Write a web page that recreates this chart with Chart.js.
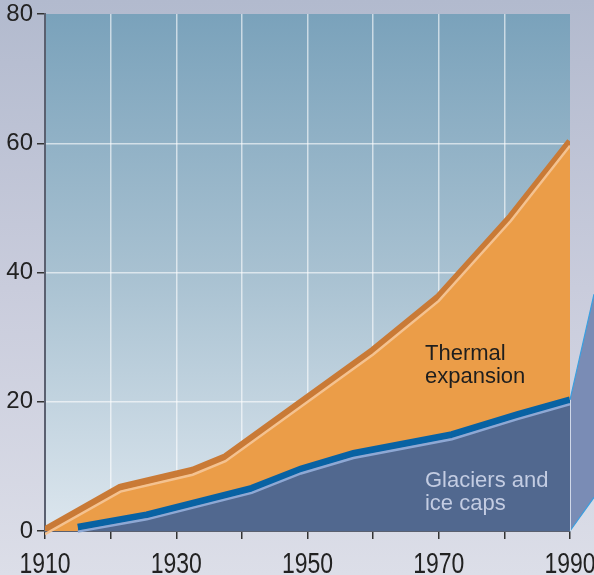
<!DOCTYPE html>
<html>
<head>
<meta charset="utf-8">
<script src="https://cdn.jsdelivr.net/npm/chart.js@4"></script>
<style>
  html, body { margin: 0; padding: 0; }
  body {
    width: 594px; height: 575px; overflow: hidden;
    background: linear-gradient(to bottom, #b2bace 0%, #c9ccdc 50%, #dcdee8 100%);
  }
  #wrap { position: relative; width: 594px; height: 575px; }
</style>
</head>
<body>
<div id="wrap"><canvas id="sea-level-chart"></canvas></div>
<script>
// Sea level rise contributions, 1910-1990

const totalYears = [1910, 1921.5, 1932.5, 1937.5, 1960, 1970, 1981, 1990];
const totalValues = [0.2, 6.8, 9.4, 11.5, 28, 36.3, 48.7, 60.3];

const glacierYears = [1915, 1925.5, 1941.5, 1949, 1957, 1972, 1982, 1990];
const glacierValues = [0.6, 2.5, 6.6, 9.6, 12, 14.9, 18, 20.3];

const yearTicks = [1910, 1930, 1950, 1970, 1990];
const valueTicks = [0, 20, 40, 60, 80];

const labelFont = '"Liberation Sans", Arial, sans-serif';

function toPoints(xs, ys) {
    return xs.map(function(x, i) { return { x: x, y: ys[i] }; });
}

// plot area gradient
const plotBackground = {
    id: 'plotBackground',
    beforeDraw: function(chart) {
        const a = chart.chartArea;
        const ctx = chart.ctx;
        const g = ctx.createLinearGradient(0, a.top, 0, a.bottom);
        g.addColorStop(0, '#7aa2bb');
        g.addColorStop(0.5, '#a8c1d1');
        g.addColorStop(1, '#dce6ee');
        ctx.save();
        ctx.fillStyle = g;
        ctx.fillRect(a.left, a.top, a.right - a.left, a.bottom - a.top);
        ctx.restore();
    }
};

// highlight lines are drawn a few pixels under their series line
const shiftLines = {
    id: 'shiftLines',
    beforeDatasetDraw: function(chart, args) {
        const shift = chart.data.datasets[args.index].shift;
        if (shift) {
            chart.ctx.save();
            chart.ctx.translate(0, shift);
        }
    },
    afterDatasetDraw: function(chart, args) {
        if (chart.data.datasets[args.index].shift) chart.ctx.restore();
    }
};

// side panel, area labels and the tall year labels
const decorations = {
    id: 'decorations',
    afterDatasetsDraw: function(chart) {
        const ctx = chart.ctx;
        const xs = chart.scales.x;
        const ys = chart.scales.y;
        const x0 = xs.getPixelForValue(totalYears[totalYears.length - 1]);
        const yb = ys.getPixelForValue(0);
        const yt = ys.getPixelForValue(glacierValues[glacierValues.length - 1]);
        const w = chart.width - x0;

        ctx.save();
        ctx.beginPath();
        ctx.moveTo(x0, yt);
        ctx.lineTo(x0 + w, yt - w * 4.4);
        ctx.lineTo(x0 + w, yb - w * 1.4);
        ctx.lineTo(x0, yb);
        ctx.closePath();
        ctx.fillStyle = '#7a8cb5';
        ctx.fill();
        ctx.strokeStyle = '#3a9fe0';
        ctx.lineWidth = 1.2;
        ctx.beginPath();
        ctx.moveTo(x0, yt);
        ctx.lineTo(x0 + w, yt - w * 4.4);
        ctx.moveTo(x0, yb);
        ctx.lineTo(x0 + w, yb - w * 1.4);
        ctx.stroke();
        ctx.strokeStyle = 'rgba(230,235,245,0.8)';
        ctx.lineWidth = 1;
        ctx.beginPath();
        ctx.moveTo(x0 + 0.5, yt);
        ctx.lineTo(x0 + 0.5, yb);
        ctx.stroke();

        ctx.font = '22px ' + labelFont;
        ctx.textAlign = 'left';
        ctx.textBaseline = 'alphabetic';
        const tx = xs.getPixelForValue(1967.9);
        ctx.fillStyle = '#1e1e1e';
        ctx.fillText('Thermal', tx, ys.getPixelForValue(26.5));
        ctx.fillText('expansion', tx, ys.getPixelForValue(22.9));
        ctx.fillStyle = '#c3cce2';
        ctx.fillText('Glaciers and', tx, ys.getPixelForValue(6.8));
        ctx.fillText('ice caps', tx, ys.getPixelForValue(3.2));
        ctx.restore();
    },
    afterDraw: function(chart) {
        // year labels are vertically stretched in the original
        const ctx = chart.ctx;
        const xs = chart.scales.x;
        const stretch = 1.3;
        const baseline = xs.bottom - 2;
        ctx.save();
        ctx.font = '23px ' + labelFont;
        ctx.fillStyle = '#222';
        ctx.textAlign = 'center';
        ctx.textBaseline = 'alphabetic';
        ctx.scale(1, stretch);
        yearTicks.forEach(function(year) {
            ctx.fillText(String(year), xs.getPixelForValue(year), baseline / stretch);
        });
        ctx.restore();
    }
};

function hideEdges(ctx) {
    const v = ctx.tick ? ctx.tick.value : null;
    return (v === 1990 || v === 80) ? 'rgba(0,0,0,0)' : 'rgba(255,255,255,0.6)';
}

function initSeaLevelChart() {
    const canvas = document.getElementById('sea-level-chart');

    new Chart(canvas, {
        type: 'line',
        data: {
            datasets: [
                {
                    label: 'Thermal expansion',
                    data: toPoints(totalYears, totalValues),
                    borderColor: '#c97a36',
                    backgroundColor: '#eb9d48',
                    borderWidth: 7,
                    borderJoinStyle: 'round',
                    fill: 'origin',
                    pointRadius: 0,
                    tension: 0,
                    order: 6
                },
                {
                    label: 'Thermal highlight',
                    data: toPoints(totalYears, totalValues),
                    borderColor: '#f4c290',
                    borderWidth: 2.5,
                    fill: false,
                    pointRadius: 0,
                    tension: 0,
                    shift: 4.5,
                    order: 5
                },
                {
                    label: 'Glaciers and ice caps',
                    data: toPoints(glacierYears, glacierValues),
                    borderColor: '#0862a3',
                    backgroundColor: '#51688f',
                    borderWidth: 7,
                    fill: 'origin',
                    pointRadius: 0,
                    tension: 0,
                    order: 4
                },
                {
                    label: 'Glacier highlight',
                    data: toPoints(glacierYears, glacierValues),
                    borderColor: '#8ea8d4',
                    borderWidth: 2.5,
                    fill: false,
                    pointRadius: 0,
                    tension: 0,
                    shift: 4.5,
                    order: 3
                }
            ]
        },
        options: {
            responsive: true,
            maintainAspectRatio: false,
            animation: false,
            layout: {
                padding: { top: 14, right: 24, left: 0, bottom: 0 }
            },
            scales: {
                x: {
                    type: 'linear',
                    min: 1910,
                    max: 1990,
                    afterFit: function(scale) {
                        scale.height = 44;
                        scale.paddingLeft = 0;
                        scale.paddingRight = 0;
                    },
                    ticks: {
                        stepSize: 10,
                        maxRotation: 0,
                        autoSkip: false,
                        padding: 10,
                        font: { family: labelFont, size: 23 },
                        callback: function() {
                            return '';
                        }
                    },
                    grid: {
                        color: hideEdges,
                        lineWidth: 1.5,
                        tickColor: '#333',
                        tickLength: 8,
                        tickWidth: 1.5
                    },
                    border: { color: '#5a6070', width: 2 }
                },
                y: {
                    min: 0,
                    max: 80,
                    afterFit: function(scale) {
                        scale.width = 45;
                        scale.paddingTop = 0;
                        scale.paddingBottom = 0;
                    },
                    afterBuildTicks: function(scale) {
                        scale.ticks = valueTicks.map(function(v) { return { value: v }; });
                    },
                    ticks: {
                        padding: 4,
                        color: '#222',
                        font: { family: labelFont, size: 24 }
                    },
                    grid: {
                        color: hideEdges,
                        lineWidth: 1.5,
                        tickColor: '#333',
                        tickLength: 8,
                        tickWidth: 1.5
                    },
                    border: { color: '#5a6070', width: 2 }
                }
            },
            plugins: {
                legend: { display: false },
                tooltip: { enabled: false }
            }
        },
        plugins: [plotBackground, shiftLines, decorations]
    });
}

document.addEventListener('DOMContentLoaded', initSeaLevelChart);
</script>
</body>
</html>
